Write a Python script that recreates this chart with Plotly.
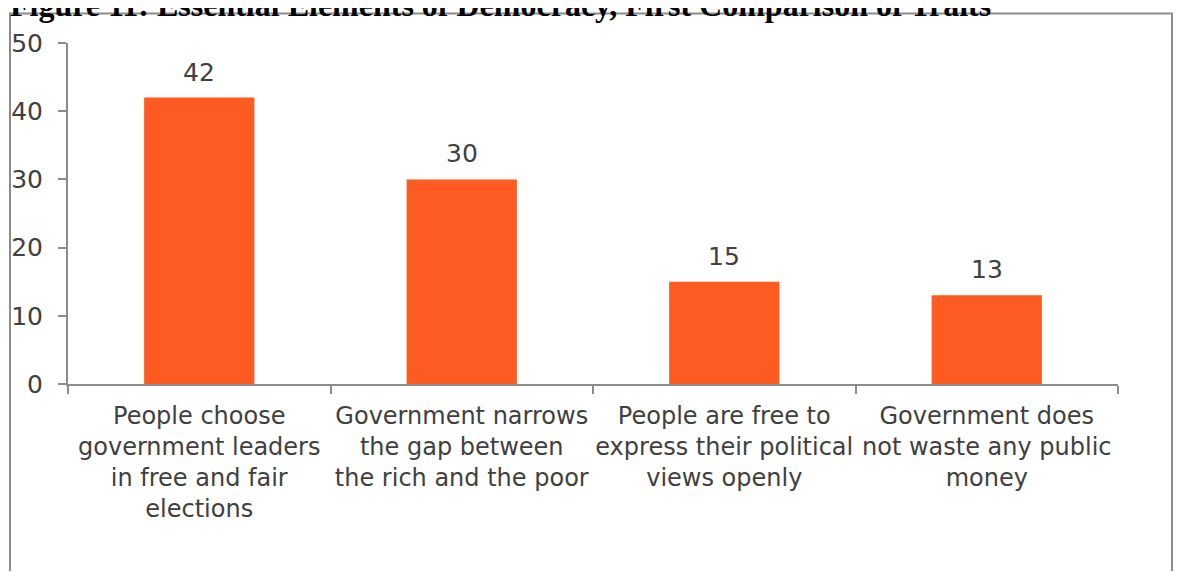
import plotly.graph_objects as go

categories = [
    "People choose<br>government leaders<br>in free and fair<br>elections",
    "Government narrows<br>the gap between<br>the rich and the poor",
    "People are free to<br>express their political<br>views openly",
    "Government does<br>not waste any public<br>money",
]
values = [42, 30, 15, 13]
title_text = "Figure 11: Essential Elements of Democracy, First Comparison of Traits"

OFF = 8  # page body margin
W, H = 1182 - 2 * OFF, 579 - 2 * OFF
# reference pixel positions of plot area
AX_L, AX_R, AX_T, AX_B = 68, 1118, 43, 384
L, R = AX_L - OFF, W - (AX_R - OFF)
T, B = AX_T - OFF, H - (AX_B - OFF)
pw, ph = W - L - R, H - T - B

def px_x(px):
    return (px - AX_L) / pw

def px_y(py):
    return (AX_B - py) / ph

font_main = "DejaVu Sans"
text_col = "#404040"
axis_col = "#8c8c8c"

fig = go.Figure(go.Bar(
    x=categories, y=values,
    marker=dict(color="#FE5B22", line=dict(width=0)),
    hoverinfo="x+y",
))

for c, v in zip(categories, values):
    fig.add_annotation(x=c, y=v, text=str(v), showarrow=False,
                       yanchor="bottom", yshift=9,
                       font=dict(size=25, color=text_col, family=font_main))

fig.update_layout(
    width=W, height=H,
    margin=dict(l=L, r=R, t=T, b=B, autoexpand=False),
    paper_bgcolor="white", plot_bgcolor="white",
    bargap=0.58,
    showlegend=False,
    font=dict(family=font_main, color=text_col, size=25),
)
fig.update_xaxes(
    showline=True, linecolor=axis_col, linewidth=2,
    ticks="outside", tickson="boundaries", ticklen=8, tickcolor=axis_col, tickwidth=2,
    tickfont=dict(size=24, color=text_col), showgrid=False, tickangle=0,
    ticklabelstandoff=9,
)
fig.update_yaxes(
    range=[0, 50], dtick=10, showline=True, linecolor=axis_col, linewidth=2,
    ticks="outside", ticklen=8, tickcolor=axis_col, tickwidth=2,
    tickfont=dict(size=25, color=text_col), showgrid=False, zeroline=False,
    ticklabelstandoff=10,
)

fig.add_shape(type="rect", xref="paper", yref="paper",
              x0=px_x(10), x1=px_x(1172), y0=px_y(640), y1=px_y(13.5),
              line=dict(color=axis_col, width=2), layer="below")

fig.add_annotation(text="<b>" + title_text + "</b>", xref="paper", yref="paper",
                   x=px_x(8), y=px_y(25), xanchor="left", yanchor="bottom",
                   showarrow=False,
                   font=dict(family="Liberation Serif", size=32, color="black"))

fig.write_html("out.html")
